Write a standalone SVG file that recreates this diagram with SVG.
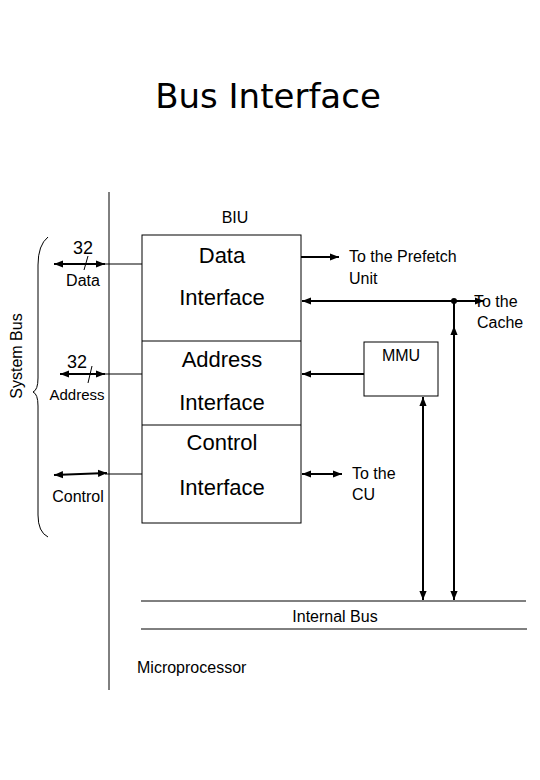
<svg xmlns="http://www.w3.org/2000/svg" width="540" height="780" viewBox="0 0 540 780">
<style>
text{font-family:"Liberation Sans",Arial,sans-serif;fill:#000}
.big{font-size:22px;text-anchor:middle}
.lbl{font-size:16px}
.thin{fill:none;stroke:#000;stroke-width:1}
.thick{fill:none;stroke:#000;stroke-width:2}
</style>
<defs>
<marker id="ah" viewBox="0 0 10 10" refX="10" refY="5" markerWidth="9" markerHeight="9" markerUnits="userSpaceOnUse" orient="auto-start-reverse">
<path d="M0,1 L10,5 L0,9 z" fill="#000"/>
</marker>
</defs>
<text x="268" y="108" style="font-family:'DejaVu Sans',sans-serif;font-size:34px;text-anchor:middle">Bus Interface</text>
<g id="system-bus">
<path class="thin" d="M48,237 Q38,245 38,265 L38,378 Q38,390 33,392 Q38,394 38,406 L38,515 Q38,532 48,537"/>
<text transform="translate(22,356) rotate(-90)" style="font-size:16px;text-anchor:middle">System Bus</text>
</g>
<g id="biu">
<text x="235" y="223" class="lbl" style="text-anchor:middle">BIU</text>
<rect x="142" y="235" width="159" height="288" class="thin"/>
<line x1="142" y1="341" x2="301" y2="341" class="thin"/>
<line x1="142" y1="425" x2="301" y2="425" class="thin"/>
</g>
<g id="data-interface">
<text x="222" y="263" class="big">Data</text>
<text x="222" y="305" class="big">Interface</text>
</g>
<g id="address-interface">
<text x="222" y="367" class="big">Address</text>
<text x="222" y="410" class="big">Interface</text>
</g>
<g id="control-interface">
<text x="222" y="450" class="big">Control</text>
<text x="222" y="495" class="big">Interface</text>
</g>
<g id="mmu">
<rect x="364" y="342" width="74" height="54" class="thin"/>
<text x="401" y="361" class="lbl" style="text-anchor:middle">MMU</text>
</g>
<g id="internal-bus">
<line x1="141" y1="601" x2="526" y2="601" class="thin"/>
<line x1="141" y1="629" x2="527" y2="629" class="thin"/>
<text x="335" y="622" class="lbl" style="text-anchor:middle">Internal Bus</text>
</g>
<g id="microprocessor">
<line x1="109" y1="192" x2="109" y2="690" class="thin"/>
<text x="137" y="673" class="lbl">Microprocessor</text>
</g>
<g id="connectors">
<line x1="105" y1="264" x2="142" y2="264" class="thin"/>
<line x1="54" y1="264" x2="105" y2="264" class="thick" marker-start="url(#ah)" marker-end="url(#ah)"/>
<line x1="88" y1="256" x2="84" y2="270" class="thin"/>
<line x1="105" y1="374" x2="142" y2="374" class="thin"/>
<line x1="60" y1="374" x2="105" y2="374" class="thick" marker-start="url(#ah)" marker-end="url(#ah)"/>
<line x1="92" y1="366" x2="88" y2="383" class="thin"/>
<line x1="105" y1="474" x2="142" y2="474" class="thin"/>
<line x1="54" y1="475" x2="107" y2="473" class="thick" marker-start="url(#ah)" marker-end="url(#ah)"/>
<line x1="301" y1="257" x2="339" y2="257" class="thick" marker-end="url(#ah)"/>
<line x1="302" y1="301" x2="484" y2="301" class="thick" marker-start="url(#ah)" marker-end="url(#ah)"/>
<circle cx="454" cy="301" r="3" fill="#000"/>
<line x1="454" y1="301" x2="454" y2="600" class="thick" marker-end="url(#ah)"/>
<line x1="454" y1="340" x2="454" y2="326" class="thick" marker-end="url(#ah)"/>
<line x1="364" y1="374" x2="302" y2="374" class="thick" marker-end="url(#ah)"/>
<line x1="423" y1="397" x2="423" y2="600" class="thick" marker-start="url(#ah)" marker-end="url(#ah)"/>
<line x1="302" y1="474" x2="342" y2="474" class="thick" marker-start="url(#ah)" marker-end="url(#ah)"/>
</g>
<g id="labels">
<text x="83" y="254" style="font-size:18px;text-anchor:middle">32</text>
<text x="83" y="286" class="lbl" style="text-anchor:middle">Data</text>
<text x="77" y="368" style="font-size:18px;text-anchor:middle">32</text>
<text x="77" y="400" style="font-size:15px;text-anchor:middle;font-weight:300">Address</text>
<text x="78" y="502" class="lbl" style="text-anchor:middle">Control</text>
<text x="349" y="262" class="lbl">To the Prefetch</text>
<text x="349" y="284" class="lbl">Unit</text>
<text x="474" y="307" class="lbl">To the</text>
<text x="477" y="328" class="lbl">Cache</text>
<text x="352" y="479" class="lbl">To the</text>
<text x="352" y="500" class="lbl">CU</text>
</g>
</svg>
